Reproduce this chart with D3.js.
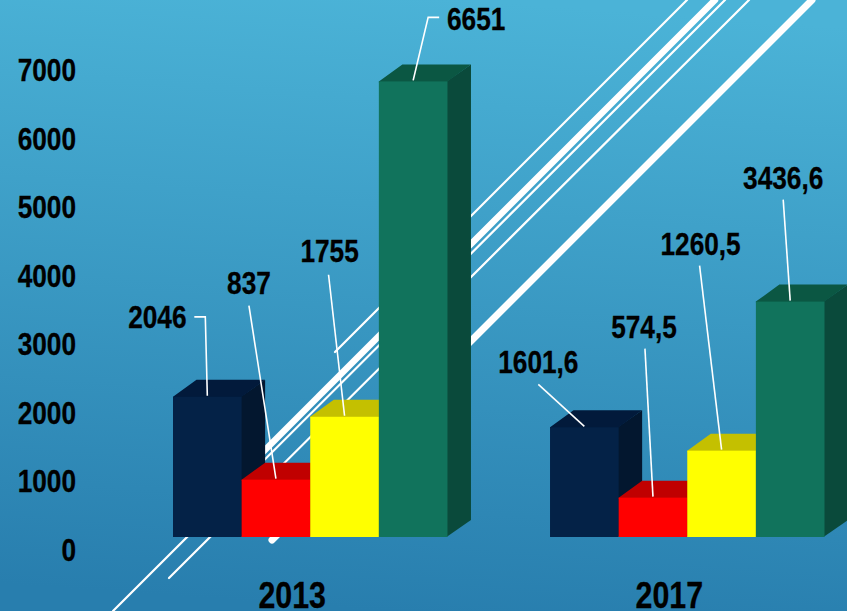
<!DOCTYPE html>
<html>
    <head>
        <script src="https://d3js.org/d3.v7.min.js"></script>
        <style>
            html, body { margin: 0; padding: 0; overflow: hidden; }
            text { font-family: "Liberation Sans", sans-serif; font-weight: bold; fill: #000; stroke: #000; stroke-width: 0.3px; }
        </style>
    </head>
    <body>
    <script>
        var years = ['2013', '2017']
        var series = ['s1', 's2', 's3', 's4']
        var values2013 = [2046, 837, 1755, 6651]
        var values2017 = [1601.6, 574.5, 1260.5, 3436.6]
        var yTicks = [0, 1000, 2000, 3000, 4000, 5000, 6000, 7000]

        var w = 847, h = 611
        var depthX = 23.5, depthY = 17
        // no narrow font here, so the bold sans gets squeezed sideways
        var squeeze = 0.82

        var frontColors = ['#042247', '#ff0000', '#ffff00', '#11735c']
        var sideColors = ['#03172f', '#aa0000', '#aaaa00', '#0a4a3b']
        var topColors = ['#021a3b', '#c00000', '#c4c000', '#0b5743']

        // label position relative to the top centre of each bar, then the leader's points
        var labelPlace = {
            '2013': [
                {dx: -50, dy: -69, from: [-13, -80], knee: [-2, -80]},
                {dx: -27, dy: -186, from: [-27, -174]},
                {dx: -15, dy: -155, from: [-16, -142]},
                {dx: 63, dy: -51, from: [26, -64], knee: [15, -64]}
            ],
            '2017': [
                {dx: -46, dy: -54, from: [-46, -43]},
                {dx: -9, dy: -160, from: [-8, -149]},
                {dx: -21, dy: -196, from: [-22, -185]},
                {dx: -7, dy: -113, from: [-7, -102]}
            ]
        }

        // the white diagonal stripes of the slide background: [x1, y1, x2, y2, width]
        var stripes = [
            [335, 352, 687, 0, 2.2],
            [200, 515, 715, 0, 6.5],
            [113, 611, 725, 0, 2.2],
            [169, 578, 749, 0, 2.2],
            [272, 540, 812, 0, 7]
        ]

        var svg = d3.select('body').append('svg')
            .attr('width', w)
            .attr('height', h)

        var grad = svg.append('defs').append('linearGradient')
            .attr('id', 'bg')
            .attr('x1', '55%').attr('y1', '0%')
            .attr('x2', '45%').attr('y2', '100%')
        grad.append('stop').attr('offset', '0%').attr('stop-color', '#4bb3d7')
        grad.append('stop').attr('offset', '100%').attr('stop-color', '#287eae')

        svg.append('rect')
            .attr('width', w)
            .attr('height', h)
            .attr('fill', 'url(#bg)')

        svg.selectAll('.stripe')
            .data(stripes)
            .join('line')
            .attr('class', 'stripe')
            .attr('x1', function(d){ return d[0] })
            .attr('y1', function(d){ return d[1] })
            .attr('x2', function(d){ return d[2] })
            .attr('y2', function(d){ return d[3] })
            .attr('stroke', '#fff')
            .attr('stroke-width', function(d){ return d[4] })
            .attr('stroke-linecap', 'round')

        var xScale = d3.scaleBand()
            .domain(years)
            .range([173, 824.5])
            .paddingInner(0.272)
            .paddingOuter(0)
        var barScale = d3.scaleBand()
            .domain(series)
            .range([0, xScale.bandwidth()])
        var yScale = d3.scaleLinear()
            .domain([0, 7000])
            .range([537, 57.5])

        var yAxis = d3.axisLeft(yScale)
            .tickValues(yTicks)
            .tickFormat(d3.format('d'))
            .tickSize(0)
        var yG = svg.append('g')
            .attr('transform', 'translate(76,13)')
            .call(yAxis)
        yG.select('.domain').remove()
        yG.selectAll('text')
            .attr('x', 0)
            .attr('font-size', 32)
            .attr('transform', 'scale(' + squeeze + ',1)')
            .style('font-family', null)

        var xAxis = d3.axisBottom(xScale).tickSize(0)
        var xG = svg.append('g')
            .attr('transform', 'translate(-18,608)')
            .call(xAxis)
        xG.select('.domain').remove()
        xG.selectAll('text')
            .attr('y', 0)
            .attr('dy', 0)
            .attr('font-size', 37)
            .attr('transform', 'scale(' + squeeze + ',1)')

        function drawGroup(year, vals){
            var g = svg.append('g')
            var x0 = xScale(year)
            var bw = barScale.bandwidth()
            vals.forEach(function(v, i){
                var x = x0 + barScale(series[i])
                var yTop = yScale(v), yBase = yScale(0)
                // side and top run a pixel under the front face so no seam shows the stripes
                g.append('path')
                    .attr('fill', sideColors[i])
                    .attr('d', d3.line()([[x + bw - 1, yTop], [x + bw + depthX, yTop - depthY], [x + bw + depthX, yBase - depthY], [x + bw - 1, yBase]]) + 'Z')
                g.append('path')
                    .attr('fill', topColors[i])
                    .attr('d', d3.line()([[x, yTop + 1], [x, yTop], [x + depthX, yTop - depthY], [x + bw + depthX, yTop - depthY], [x + bw, yTop], [x + bw, yTop + 1]]) + 'Z')
                g.append('rect')
                    .attr('x', x)
                    .attr('y', yTop)
                    .attr('width', bw)
                    .attr('height', yBase - yTop)
                    .attr('fill', frontColors[i])
            })
            return g
        }

        function drawLabels(year, vals){
            var fmt = function(v){ return String(v).replace('.', ',') }
            vals.forEach(function(v, i){
                var cx = xScale(year) + barScale(series[i]) + barScale.bandwidth() / 2
                var cy = yScale(v)
                var p = labelPlace[year][i]
                var pts = [[cx + p.from[0], cy + p.from[1]]]
                if (p.knee) pts.push([cx + p.knee[0], cy + p.knee[1]])
                pts.push([cx, cy - 1])
                svg.append('path')
                    .attr('d', d3.line()(pts))
                    .attr('fill', 'none')
                    .attr('stroke', '#fff')
                    .attr('stroke-width', 1.6)
                svg.append('text')
                    .attr('transform', 'translate(' + (cx + p.dx) + ',' + (cy + p.dy) + ') scale(' + squeeze + ',1)')
                    .attr('text-anchor', 'middle')
                    .attr('font-size', 32)
                    .text(fmt(v))
            })
        }

        drawGroup('2013', values2013)
        drawGroup('2017', values2017)
        drawLabels('2013', values2013)
        drawLabels('2017', values2017)
    </script>
    </body>
</html>
